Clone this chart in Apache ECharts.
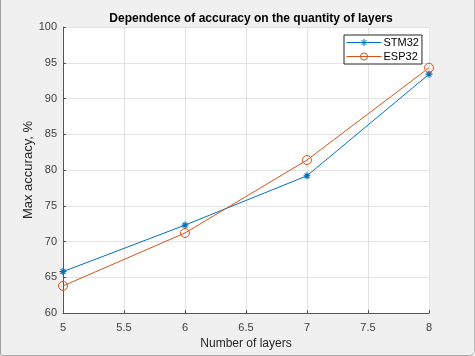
<!DOCTYPE html>
<html>
<head>
<meta charset="utf-8">
<script src="https://cdn.jsdelivr.net/npm/echarts@6/dist/echarts.min.js"></script>
<style>
html,body{margin:0;padding:0;background:#f0f0f0;}
#wrap{width:475px;height:356px;box-sizing:border-box;border-left:1px solid #a0a0a0;border-right:1px solid #b8b8b8;border-bottom:1px solid #a8a8a8;border-bottom-right-radius:6px;border-bottom-left-radius:3px;overflow:hidden;}
#chart{width:473px;height:355px;}
</style>
</head>
<body>
<div id="wrap"><div id="chart"></div></div>
<script>
const layers = [5, 6, 7, 8];
const stm32 = [65.8, 72.3, 79.2, 93.4];
const esp32 = [63.8, 71.2, 81.4, 94.3];
const xTicks = [5, 5.5, 6, 6.5, 7, 7.5, 8];
const yTicks = [60, 65, 70, 75, 80, 85, 90, 95, 100];

const FONT = '"Liberation Sans", Arial, sans-serif';
const AX = '#404040';
const BLUE = '#0072BD';
const ORANGE = '#D95319';
const asterisk = 'path://M0,-10L0,10M-10,0L10,0M-7,-7L7,7M-7,7L7,-7';
const ring = 'path://M10,0A10,10,0,1,1,-10,0A10,10,0,1,1,10,0Z';

const chart = echarts.init(document.getElementById('chart'), null, {renderer: 'canvas'});
chart.setOption({
  backgroundColor: '#f0f0f0',
  animation: false,
  title: {
    text: 'Dependence of accuracy on the quantity of layers',
    left: 245, top: 8, textAlign: 'center',
    textStyle: {fontFamily: FONT, fontSize: 12, fontWeight: 'bold', color: '#000'}
  },
  grid: {left: 62, right: 45, top: 27, bottom: 40, show: true, backgroundColor: '#fff', borderWidth: 0},
  legend: {
    orient: 'vertical', left: 343, top: 35,
    backgroundColor: '#fff', borderColor: '#262626', borderWidth: 1, borderRadius: 0,
    padding: [2, 3, 2, 2], itemGap: 3, itemWidth: 35, itemHeight: 9,
    textStyle: {fontFamily: FONT, fontSize: 11, color: '#000', padding: [0, 0, 0, -3]},
    data: [
      {name: 'STM32', itemStyle: {color: 'rgba(0,0,0,0)', borderColor: BLUE, borderWidth: 1}, lineStyle: {color: BLUE, width: 1}},
      {name: 'ESP32', itemStyle: {color: 'rgba(0,0,0,0)', borderColor: ORANGE, borderWidth: 1}, lineStyle: {color: ORANGE, width: 1}}
    ]
  },
  xAxis: {
    type: 'value', min: 5, max: 8, interval: 0.5,
    name: 'Number of layers', nameLocation: 'middle', nameGap: 24,
    nameTextStyle: {fontFamily: FONT, fontSize: 12, color: '#262626'},
    axisLine: {show: true, onZero: false, lineStyle: {color: '#555', width: 1}},
    axisTick: {show: true, inside: true, length: 3, lineStyle: {color: '#555'}},
    axisLabel: {fontFamily: FONT, fontSize: 11, color: AX, margin: 9,
      formatter: v => xTicks.includes(v) ? String(v) : ''},
    splitLine: {show: true, lineStyle: {color: '#e2e2e2', width: 1}}
  },
  yAxis: {
    type: 'value', min: 60, max: 100, interval: 5,
    name: 'Max accuracy, %', nameLocation: 'middle', nameGap: 35, nameMoveOverlap: false,
    nameTextStyle: {fontFamily: FONT, fontSize: 13, color: '#262626', verticalAlign: 'middle'},
    axisLine: {show: true, onZero: false, lineStyle: {color: '#555', width: 1}},
    axisTick: {show: true, inside: true, length: 3, lineStyle: {color: '#555'}},
    axisLabel: {fontFamily: FONT, fontSize: 11, color: AX, margin: 6,
      formatter: v => yTicks.includes(v) ? String(v) : ''},
    splitLine: {show: true, lineStyle: {color: '#e2e2e2', width: 1}}
  },
  series: [
    {
      name: 'STM32', type: 'line', clip: false,
      data: layers.map((x, i) => [x, stm32[i]]),
      symbol: asterisk, symbolSize: 7, showAllSymbol: true,
      lineStyle: {color: BLUE, width: 1},
      itemStyle: {color: 'rgba(0,0,0,0)', borderColor: BLUE, borderWidth: 1.2}
    },
    {
      name: 'ESP32', type: 'line', clip: false,
      data: layers.map((x, i) => [x, esp32[i]]),
      symbol: ring, symbolSize: 9, showAllSymbol: true,
      lineStyle: {color: ORANGE, width: 1},
      itemStyle: {color: 'rgba(0,0,0,0)', borderColor: ORANGE, borderWidth: 1}
    }
  ]
});
</script>
</body>
</html>
